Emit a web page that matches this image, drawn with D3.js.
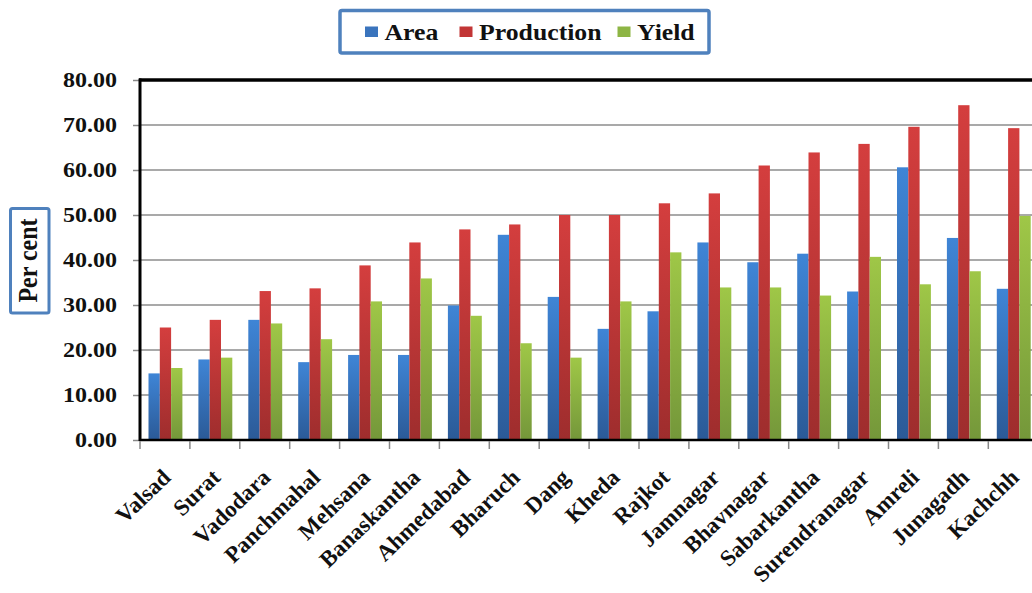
<!DOCTYPE html>
<html><head><meta charset="utf-8">
<script src="https://cdn.jsdelivr.net/npm/d3@7"></script>
<style>body{margin:0;background:#fff}svg{display:block}</style>
</head><body>
<svg id="c" width="1032" height="593"></svg>
<script>
const categories = ["Valsad","Surat","Vadodara","Panchmahal","Mehsana","Banaskantha","Ahmedabad","Bharuch","Dang","Kheda","Rajkot","Jamnagar","Bhavnagar","Sabarkantha","Surendranagar","Amreli","Junagadh","Kachchh"];
const area       = [14.8,17.9,26.7,17.3,18.9,18.9,29.9,45.6,31.8,24.7,28.6,43.9,39.5,41.4,33.0,60.6,44.9,33.6];
const production = [25.0,26.7,33.1,33.7,38.8,43.9,46.8,47.9,50.0,50.0,52.6,54.8,61.0,63.9,65.8,69.6,74.4,69.3];
const yieldVals  = [16.0,18.3,25.9,22.4,30.8,35.9,27.6,21.5,18.3,30.8,41.7,33.9,33.9,32.1,40.7,34.6,37.5,49.8];
const seriesNames = ["Area","Production","Yield"];
const yTicks = [0,10,20,30,40,50,60,70,80];

const seriesData = [area, production, yieldVals];
const grads = [["#3f85d6","#2b5a97"],["#d43e3e","#9e2d2d"],["#9fc747","#74973a"]];
const legendColors = ["#3a74bd","#c23535","#8db544"];

const svg = d3.select("#c");
const L = 140, T = 80, B = 440, R = 140 + 18*49.9;
const FONT = "'Liberation Serif','Times New Roman',serif";

const defs = svg.append("defs");
grads.forEach((g,i)=>{
  const lg = defs.append("linearGradient").attr("id","g"+i).attr("x1",0).attr("y1",0).attr("x2",0).attr("y2",1);
  lg.append("stop").attr("offset","0%").attr("stop-color",g[0]);
  lg.append("stop").attr("offset","100%").attr("stop-color",g[1]);
});

const x = d3.scaleBand().domain(categories).range([L,R]).padding(0);
const x1 = d3.scaleBand().domain(seriesNames).range([8.5, x.bandwidth()-7.5]).padding(0);
const y = d3.scaleLinear().domain([0,80]).range([B,T]);

// gridlines
svg.append("g").selectAll("line").data(yTicks.filter(v=>v>0 && v<80)).join("line")
  .attr("x1",L).attr("x2",1032).attr("y1",d=>y(d)).attr("y2",d=>y(d))
  .attr("stroke","#8c8c8c").attr("stroke-width",1.5);

// bars
const groups = svg.append("g").selectAll("g").data(categories).join("g")
  .attr("transform",d=>`translate(${x(d)},0)`);
groups.selectAll("rect").data((d,i)=>seriesNames.map((s,j)=>({s,j,v:seriesData[j][i]}))).join("rect")
  .attr("x",d=>x1(d.s)).attr("width",x1.bandwidth())
  .attr("y",d=>y(d.v)).attr("height",d=>B-y(d.v))
  .attr("fill",d=>`url(#g${d.j})`);

// top border
svg.append("line").attr("x1",L-1).attr("x2",1032).attr("y1",T).attr("y2",T).attr("stroke","#000").attr("stroke-width",3.5);

// y axis
const yAxis = svg.append("g").attr("transform",`translate(${L},0)`)
  .call(d3.axisLeft(y).tickValues(yTicks).tickSize(7).tickFormat(d3.format(".2f")));
yAxis.select(".domain").remove();
yAxis.selectAll(".tick line").attr("stroke","#888").attr("stroke-width",1.5);
yAxis.selectAll(".tick text").remove();
svg.append("g").selectAll("text").data(yTicks).join("text")
  .attr("transform",d=>`translate(117,${y(d)+7}) scale(1.2,1)`)
  .attr("text-anchor","end").attr("font-family",FONT).attr("font-weight","bold")
  .attr("font-size",20).attr("fill","#111").text(d3.format(".2f"));
svg.append("line").attr("x1",L).attr("x2",L).attr("y1",T-1.5).attr("y2",B+1).attr("stroke","#000").attr("stroke-width",3);

// x axis
const xAxis = svg.append("g").attr("transform",`translate(0,${B})`)
  .call(d3.axisBottom(x).tickSize(0).tickFormat(""));
xAxis.select(".domain").remove();
svg.append("line").attr("x1",L).attr("x2",1032).attr("y1",B).attr("y2",B).attr("stroke","#000").attr("stroke-width",2.5);
svg.append("g").selectAll("line").data(categories).join("line")
  .attr("x1",d=>x(d)).attr("x2",d=>x(d)).attr("y1",B+1).attr("y2",B+9)
  .attr("stroke","#888").attr("stroke-width",1.5);
svg.append("g").selectAll("text").data(categories).join("text")
  .attr("transform",d=>`translate(${x(d)+x.bandwidth()/2+7},${B+39}) rotate(-44)`)
  .attr("text-anchor","end").attr("font-family",FONT).attr("font-weight","bold")
  .attr("font-size",23).attr("fill","#111").text(d=>d);

// y label
svg.append("rect").attr("x",10.5).attr("y",208.5).attr("width",38.5).attr("height",104.5)
  .attr("fill","#fff").attr("stroke","#4f81bd").attr("stroke-width",3).attr("rx",2);
svg.append("text").attr("transform","translate(36.5,260.5) scale(1.15,1) rotate(-90)")
  .attr("text-anchor","middle").attr("font-family",FONT).attr("font-weight","bold")
  .attr("font-size",24).attr("fill","#111").text("Per cent");

// legend
svg.append("rect").attr("x",340).attr("y",10.5).attr("width",369).attr("height",42.5)
  .attr("fill","#fff").attr("stroke","#4f81bd").attr("stroke-width",3.5).attr("rx",2);
const legX = [365, 459.5, 617.5];
const leg = svg.append("g").selectAll("g").data(seriesNames).join("g")
  .attr("transform",(d,i)=>`translate(${legX[i]},0)`);
leg.append("rect").attr("x",0).attr("y",26.5).attr("width",13).attr("height",10.5)
  .attr("fill",(d,i)=>legendColors[i]);
leg.append("text").attr("transform","translate(19.5,39.5) scale(1.12,1)")
  .attr("font-family",FONT).attr("font-weight","bold").attr("font-size",23)
  .attr("fill","#111").text(d=>d);
</script>
</body></html>
